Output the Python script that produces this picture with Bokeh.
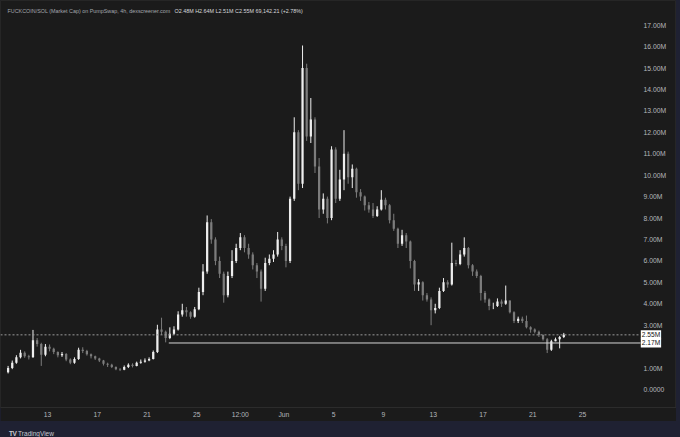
import numpy as np
import pandas as pd
from bokeh.plotting import figure
from bokeh.layouts import column
from bokeh.models import ColumnDataSource, Range1d, FixedTicker, Label, Div
from bokeh.embed import file_html
from bokeh.resources import INLINE

# ---------------- data (market cap in millions, 8h candles) ----------------
start_time = "2025-05-09 20:00"
candle_freq = "8h"
first_open = 0.80
closes = [1.00, 1.25, 1.50, 1.72, 1.55, 1.50, 2.30, 2.12, 1.62, 2.00,
          1.90, 1.75, 1.60, 1.66, 1.40, 1.25, 1.42, 1.85, 1.80, 1.65,
          1.55, 1.45, 1.35, 1.20, 1.15, 1.05, 0.95, 0.92, 1.05, 1.15,
          1.10, 1.25, 1.30, 1.35, 1.42, 1.75, 2.80, 2.70, 2.40, 2.60,
          2.80, 3.50, 3.70, 3.60, 3.40, 3.75, 4.55, 5.50, 7.80, 7.00,
          6.00, 5.40, 4.40, 5.30, 6.00, 6.60, 7.10, 6.60, 6.30, 5.80,
          5.50, 4.70, 5.90, 6.10, 6.30, 7.00, 6.70, 6.00, 8.90, 12.00,
          9.60, 15.00, 11.80, 12.60, 10.40, 8.40, 8.90, 8.00, 11.20, 8.90,
          9.80, 11.00, 9.90, 10.30, 9.20, 9.00, 8.60, 8.40, 8.10, 8.40,
          8.85, 8.60, 7.90, 7.50, 6.80, 7.20, 6.90, 6.00, 4.90, 5.00,
          4.40, 4.20, 3.70, 3.80, 4.60, 5.00, 4.90, 5.90, 5.85, 6.30,
          6.60, 5.80, 5.50, 5.30, 4.50, 4.20, 3.90, 3.90, 4.10, 4.00,
          4.15, 3.60, 3.20, 3.30, 3.20, 2.90, 2.80, 2.70, 2.55, 2.35,
          1.85, 2.25, 2.35, 2.45, 2.55]
highs = [1.10, 1.35, 1.60, 1.85, 1.78, 1.62, 2.78, 2.40, 2.18, 2.12,
         2.10, 1.95, 1.78, 1.75, 1.70, 1.45, 1.50, 1.95, 1.97, 1.85,
         1.68, 1.58, 1.48, 1.38, 1.25, 1.20, 1.08, 1.00, 1.12, 1.22,
         1.22, 1.30, 1.40, 1.45, 1.50, 1.82, 3.02, 3.35, 2.75, 2.90,
         2.95, 3.65, 4.00, 3.85, 3.65, 3.85, 4.75, 5.85, 8.12, 7.95,
         7.10, 6.20, 5.50, 5.50, 6.50, 6.80, 7.30, 7.20, 6.80, 6.40,
         5.90, 5.60, 6.15, 6.30, 6.50, 7.35, 7.10, 6.80, 9.00, 12.70,
         12.10, 16.05, 15.20, 13.60, 12.70, 10.80, 9.15, 9.00, 11.35, 11.30,
         10.25, 12.10, 11.10, 10.50, 10.35, 9.35, 9.05, 8.75, 8.70, 8.55,
         9.30, 8.95, 8.65, 8.20, 7.55, 7.45, 7.30, 6.95, 6.05, 5.15,
         5.05, 4.50, 4.30, 4.00, 4.75, 5.20, 5.10, 6.85, 6.05, 6.50,
         7.10, 6.65, 5.85, 5.60, 5.35, 4.60, 4.25, 4.05, 4.25, 4.20,
         4.85, 4.15, 3.65, 3.40, 3.40, 3.45, 2.95, 2.85, 2.75, 2.55,
         2.40, 2.32, 2.42, 2.50, 2.64]
lows = [0.75, 0.95, 1.20, 1.45, 1.48, 1.40, 1.48, 2.00, 1.10, 1.55,
        1.78, 1.65, 1.50, 1.52, 1.32, 1.18, 1.20, 1.38, 1.70, 1.58,
        1.45, 1.38, 1.28, 1.12, 1.05, 1.00, 0.90, 0.86, 0.90, 1.00,
        1.03, 1.08, 1.20, 1.25, 1.32, 1.40, 1.70, 2.55, 2.20, 2.35,
        2.55, 2.75, 3.40, 3.40, 3.30, 3.35, 3.70, 4.40, 5.40, 6.80,
        5.80, 5.20, 4.05, 4.30, 5.20, 5.90, 6.50, 6.40, 6.10, 5.60,
        5.20, 4.10, 4.60, 5.80, 5.95, 6.20, 6.50, 5.70, 5.90, 8.80,
        9.30, 9.40, 11.60, 11.50, 10.10, 8.00, 8.20, 7.75, 7.90, 8.70,
        8.80, 9.30, 9.60, 9.40, 8.95, 8.80, 8.35, 8.25, 8.00, 8.05,
        8.35, 8.40, 7.75, 7.40, 6.60, 6.70, 6.60, 5.65, 4.60, 4.60,
        4.15, 4.10, 3.00, 3.55, 3.75, 4.55, 4.75, 4.85, 5.75, 5.80,
        6.20, 5.65, 5.30, 5.20, 4.15, 4.05, 3.70, 3.75, 3.85, 3.85,
        3.95, 3.55, 3.10, 3.10, 3.10, 2.85, 2.65, 2.62, 2.45, 2.28,
        1.70, 1.80, 2.25, 1.92, 2.40]

last_price = 2.55
support_level = 2.17
support_start = "2025-05-22 18:00"

y_ticks = [0, 1, 3, 4, 5, 6, 7, 8, 9, 10, 11, 12, 13, 14, 15, 16, 17]
y_tick_labels = ["0.0000", "1.00M", "3.00M", "4.00M", "5.00M", "6.00M", "7.00M",
                 "8.00M", "9.00M", "10.00M", "11.00M", "12.00M", "13.00M", "14.00M",
                 "15.00M", "16.00M", "17.00M"]
x_tick_dates = ["2025-05-13", "2025-05-17", "2025-05-21", "2025-05-25", "2025-05-28 12:00",
                "2025-06-01", "2025-06-05", "2025-06-09", "2025-06-13", "2025-06-17",
                "2025-06-21", "2025-06-25"]
x_tick_labels = ["13", "17", "21", "25", "12:00", "Jun", "5", "9", "13", "17", "21", "25"]

title_main = "FUCKCOIN/SOL (Market Cap) on PumpSwap, 4h, dexscreener.com"
title_values = "O2.48M H2.64M L2.51M C2.55M 69,142.21 (+2.78%)"

# ---------------- styling ----------------
PANEL = "#1b1b1b"
NAVY = "#1f2132"
TXT = "#b4b6bc"
UP = "#eeeeee"
DOWN = "#7c7c7c"
FONT = "Liberation Sans"

EPOCH = pd.Timestamp("2025-04-30")


def to_day(ts):
    return (pd.Timestamp(ts) - EPOCH) / pd.Timedelta(days=1)


times = pd.date_range(start_time, periods=len(closes), freq=candle_freq)
x = np.array([(t - EPOCH) / pd.Timedelta(days=1) for t in times])
opens = [first_open] + closes[:-1]
o = np.array(opens)
c = np.array(closes)
src = ColumnDataSource(dict(
    x=x, open=o, close=c, high=np.array(highs), low=np.array(lows),
    top=np.maximum(o, c), bottom=np.minimum(o, c),
    color=[UP if cc >= oo else DOWN for oo, cc in zip(o, c)],
))

# frame: canvas x 0..676 (price scale lives inside its right part), y 0..407
X0, X1 = 9.222, 63.56          # 12.44 px per day
Y0, Y1 = -0.84, 18.15          # 21.43 px per 1M
PRICE_SCALE_DAY = 60.67        # left edge of the price-scale column

p = figure(width=676, height=421,
           x_range=Range1d(X0, X1), y_range=Range1d(Y0, Y1),
           y_axis_location="right", output_backend="svg", toolbar_location=None,
           background_fill_color=PANEL, border_fill_color=PANEL,
           outline_line_color="#262626")
p.min_border = 0
p.min_border_left = 0
p.min_border_top = 0
p.min_border_right = 0
p.min_border_bottom = 14
p.grid.visible = False

yax = p.yaxis[0]
yax.ticker = FixedTicker(ticks=y_ticks)
yax.major_label_overrides = {t: l for t, l in zip(y_ticks, y_tick_labels)}
yax.axis_line_color = None
yax.major_tick_line_color = None
yax.minor_tick_line_color = None
yax.major_tick_out = 0
yax.major_tick_in = 0
yax.minor_tick_out = 0
yax.minor_tick_in = 0
yax.major_label_standoff = -33
yax.major_label_text_font = FONT
yax.major_label_text_font_size = "6.8px"
yax.major_label_text_color = TXT

xticks = [to_day(d) for d in x_tick_dates]
xax = p.xaxis[0]
xax.ticker = FixedTicker(ticks=xticks)
xax.major_label_overrides = {t: l for t, l in zip(xticks, x_tick_labels)}
xax.axis_line_color = "#2c2c2c"
xax.major_tick_line_color = None
xax.minor_tick_line_color = None
xax.major_tick_out = 0
xax.major_tick_in = 0
xax.minor_tick_out = 0
xax.minor_tick_in = 0
xax.major_label_standoff = 3
xax.major_label_text_font = FONT
xax.major_label_text_font_size = "6.8px"
xax.major_label_text_color = TXT

# candles
p.segment(x0="x", y0="low", x1="x", y1="high", line_color="color", line_width=1, source=src)
p.vbar(x="x", width=0.18, top="top", bottom="bottom", fill_color="color",
       line_color=None, source=src)

# price lines
p.segment(x0=[X0], y0=[last_price], x1=[PRICE_SCALE_DAY], y1=[last_price],
          line_color="#9a9a9a", line_dash="2 2", line_width=1)
p.segment(x0=[to_day(support_start)], y0=[support_level], x1=[PRICE_SCALE_DAY],
          y1=[support_level], line_color="#d6d6d6", line_width=1)

# price tags on the scale
for val, txt in [(last_price, "2.55M"), (support_level, "2.17M")]:
    p.add_layout(Label(x=PRICE_SCALE_DAY + 0.02, y=val, text=txt, text_baseline="middle",
                       text_font=FONT, text_font_size="6.6px", text_color="#111111",
                       background_fill_color="#ffffff", background_fill_alpha=1.0,
                       padding=1))

# header line
p.add_layout(Label(x=9.785, y=17.66, text=title_main, text_baseline="middle",
                   text_font=FONT, text_font_size="5.4px", text_color="#a3a6ad"))
p.add_layout(Label(x=23.21, y=17.66, text=title_values, text_baseline="middle",
                   text_font=FONT, text_font_size="5.4px", text_color="#d8d9dc"))

footer = Div(text='<span style="font-weight:900;letter-spacing:-0.5px">TV</span>&nbsp;TradingView',
             width=676, height=16,
             styles={"color": "#c8cad0", "font-size": "6.5px", "font-family": FONT,
                     "line-height": "16px", "padding-left": "4px", "background": NAVY})

layout = column(p, footer, spacing=0)

html = file_html(layout, INLINE, title="FUCKCOIN/SOL")
html = html.replace("<head>", "<head><style>html,body{background:%s;}</style>" % NAVY, 1)
open("out.html", "w").write(html)
